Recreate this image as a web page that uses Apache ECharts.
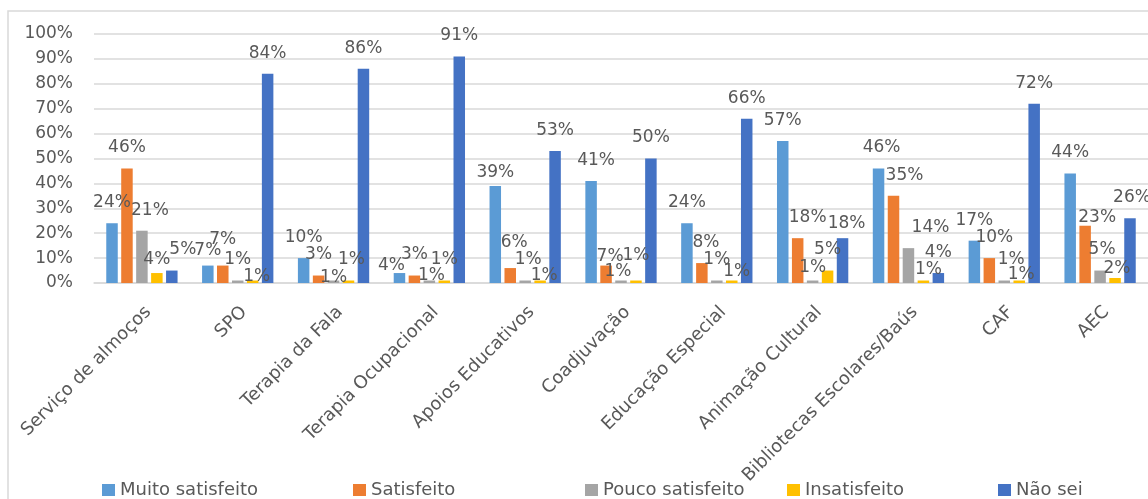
<!DOCTYPE html>
<html><head><meta charset="utf-8">
<script src="https://cdn.jsdelivr.net/npm/echarts@6/dist/echarts.min.js"></script>
<style>html,body{margin:0;padding:0;background:#fff}#c{width:1148px;height:499px}</style>
</head><body><div id="c"></div>
<script>
// ---- data ----
const categories = ['Serviço de almoços','SPO','Terapia da Fala','Terapia Ocupacional','Apoios Educativos','Coadjuvação','Educação Especial','Animação Cultural','Bibliotecas Escolares/Baús','CAF','AEC'];
const seriesNames = ['Muito satisfeito','Satisfeito','Pouco satisfeito','Insatisfeito','Não sei'];
const muitoSatisfeito = [24, 7, 10, 4, 39, 41, 24, 57, 46, 17, 44];
const satisfeito      = [46, 7, 3, 3, 6, 7, 8, 18, 35, 10, 23];
const poucoSatisfeito = [21, 1, 1, 1, 1, 1, 1, 1, 14, 1, 5];
const insatisfeito    = [4, 1, 1, 1, 1, 1, 1, 5, 1, 1, 2];
const naoSei          = [5, 84, 86, 91, 53, 50, 66, 18, 4, 72, 26];
const yTickStep = 10, yMax = 100;

// ---- style ----
const colors = ['#5B9BD5','#ED7D31','#A5A5A5','#FFC000','#4472C4'];
const legendLeft = [97, 348, 580, 782, 993];
// per-label nudges (dx, dy) in px, keyed by series index -> category index
const labelNudge = {
  0: {1:[0,6], 3:[-8,13], 4:[0,7], 5:[5,0], 8:[3,0]},
  1: {1:[0,-5], 4:[4,-5], 5:[4,12], 6:[4,0], 7:[10,0], 8:[11,0], 9:[5,0], 10:[12,12]},
  2: {0:[8,0], 2:[0,18], 3:[2,16], 4:[3,0], 5:[-3,12], 7:[0,8], 8:[22,0], 9:[7,0], 10:[2,0]},
  3: {0:[0,7], 1:[4,17], 2:[3,0], 4:[4,16], 5:[0,-4], 6:[5,12], 8:[5,10], 9:[2,15], 10:[2,11]},
  4: {0:[11,0], 7:[4,6], 10:[2,0]}
};
const FONT = 'DejaVu Sans';
const TXT = '#595959';

const allSeries = [muitoSatisfeito, satisfeito, poucoSatisfeito, insatisfeito, naoSei];

const chart = echarts.init(document.getElementById('c'), null, {renderer:'canvas'});
chart.setOption({
  backgroundColor: '#ffffff',
  animation: false,
  graphic: [{type:'rect', shape:{x:8, y:11, width:1300, height:600}, style:{fill:'none', stroke:'#D9D9D9', lineWidth:1.5}, silent:true}],
  legend: seriesNames.map((n, i) => ({
    data: [n], left: legendLeft[i], top: 476, icon: 'rect', itemWidth: 13, itemHeight: 12,
    textStyle: {fontFamily: FONT, fontSize: 18, color: TXT}
  })),
  grid: {left: 94, top: 34, width: 1069, height: 249, containLabel: false},
  xAxis: {
    type: 'category', data: categories,
    axisLine: {show: true, lineStyle: {color: '#D9D9D9', width: 1.5}},
    axisTick: {show: false},
    axisLabel: {interval: 0, rotate: 45, margin: 20, verticalAlign: 'top', fontFamily: FONT, fontSize: 18, color: TXT}
  },
  yAxis: {
    type: 'value', min: 0, max: yMax, interval: yTickStep,
    axisLine: {show: false}, axisTick: {show: false},
    axisLabel: {formatter: '{value}%', margin: 21, fontFamily: FONT, fontSize: 17, color: TXT},
    splitLine: {lineStyle: {color: '#D9D9D9', width: 1.5}}
  },
  series: allSeries.map((arr, si) => ({
    name: seriesNames[si], type: 'bar', barWidth: 11.5, barGap: '30%',
    itemStyle: {color: colors[si]},
    label: {show: true, position: 'top', distance: 12, formatter: '{c}%', fontFamily: FONT, fontSize: 17, color: TXT},
    data: arr.map((v, ci) => {
      const n = labelNudge[si] && labelNudge[si][ci];
      return n ? {value: v, label: {offset: n}} : v;
    })
  }))
});
</script></body></html>
